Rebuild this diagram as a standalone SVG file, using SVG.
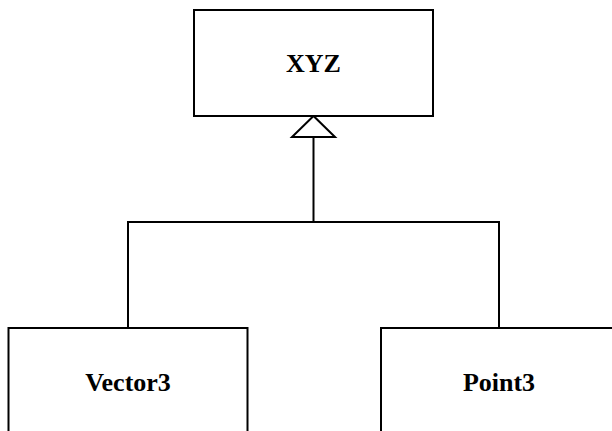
<svg xmlns="http://www.w3.org/2000/svg" width="612" height="431" viewBox="0 0 612 431">
<style>
.box{fill:#fff;stroke:#000;stroke-width:2}
.lbl{font-weight:bold;font-size:26px;text-anchor:middle;fill:#000}
.conn{fill:none;stroke:#000;stroke-width:2}
</style>
<rect width="612" height="431" fill="#fff"/>
<g id="connectors">
<polyline class="conn" points="128,328 128,222 499,222 499,328"/>
<line class="conn" x1="313.5" y1="222" x2="313.5" y2="137"/>
<polygon class="conn" points="313.5,116 292,137 335,137" style="fill:#fff"/>
</g>
<g id="XYZ">
<rect class="box" x="194" y="10" width="239" height="106"/>
<text class="lbl" x="313.5" y="72" font-family="'Liberation Serif', 'Times New Roman', Times, serif">XYZ</text>
</g>
<g id="Vector3">
<rect class="box" x="8.5" y="328" width="239" height="106"/>
<text class="lbl" x="128" y="391" font-family="'Liberation Serif', 'Times New Roman', Times, serif">Vector3</text>
</g>
<g id="Point3">
<rect class="box" x="381" y="328" width="239" height="106"/>
<text class="lbl" x="499" y="391" font-family="'Liberation Serif', 'Times New Roman', Times, serif">Point3</text>
</g>
</svg>
